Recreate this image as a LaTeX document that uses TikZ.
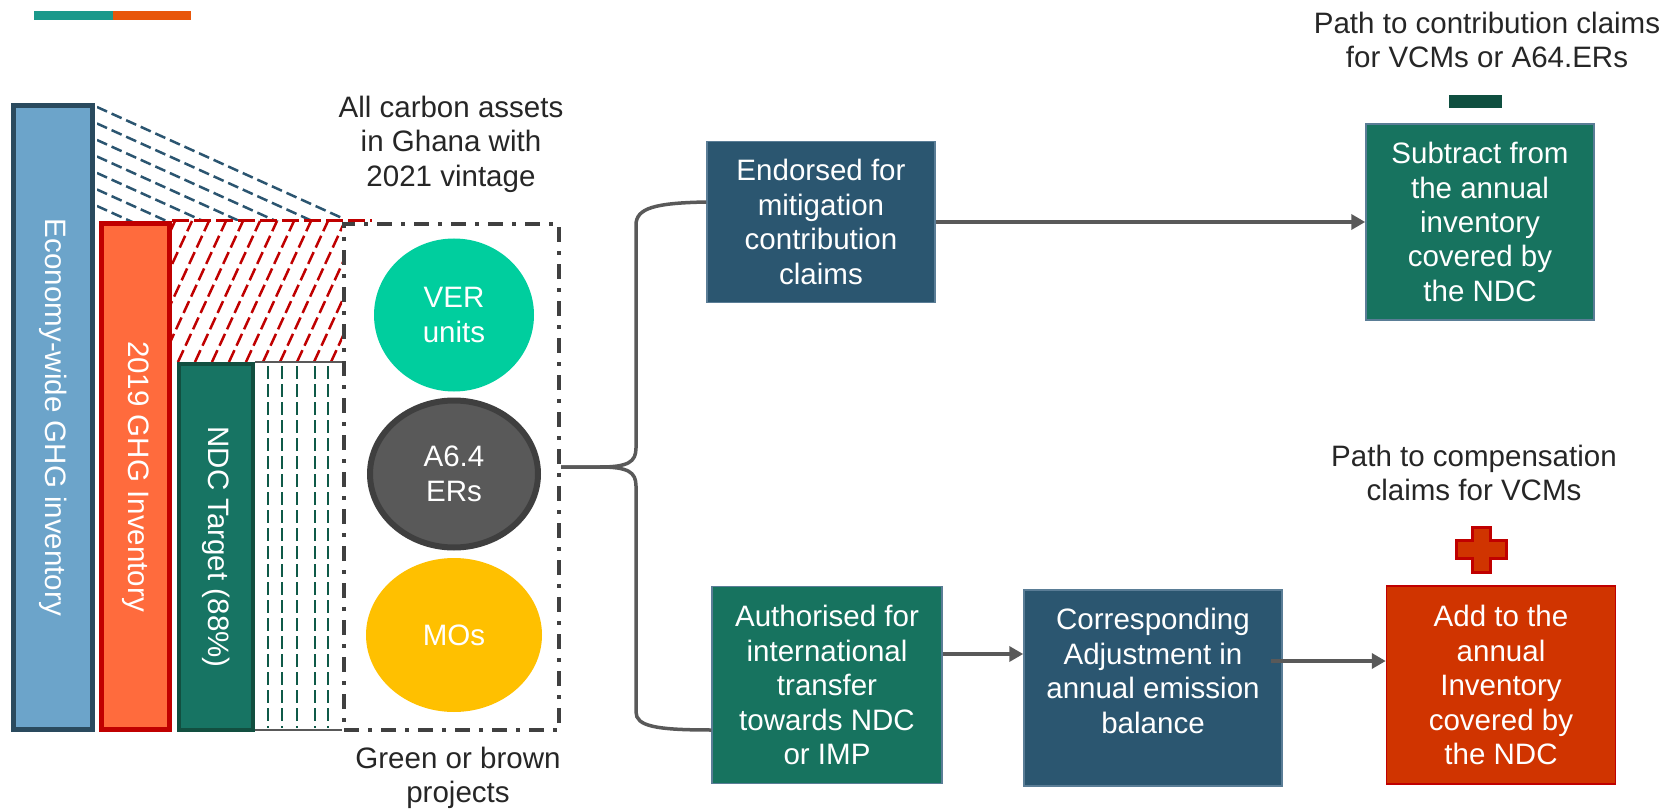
\documentclass[tikz,border=0pt]{standalone}
\usepackage{fontspec}
\setmainfont{Liberation Sans}
\usetikzlibrary{shapes.geometric,arrows.meta,calc}
\newlength{\unitpx}\setlength{\unitpx}{0.2mm}
\definecolor{accteal}{HTML}{1B998B}
\definecolor{accorange}{HTML}{E8560A}
\definecolor{econblue}{HTML}{6CA4CA}
\definecolor{econedge}{HTML}{2A4A5E}
\definecolor{invorange}{HTML}{FF6B3D}
\definecolor{invred}{HTML}{C00000}
\definecolor{ndcteal}{HTML}{177463}
\definecolor{ndcedge}{HTML}{124F40}
\definecolor{cnavy}{HTML}{2B5670}
\definecolor{cteal}{HTML}{17735F}
\definecolor{addred}{HTML}{D03400}
\definecolor{boxedge}{HTML}{5A7D96}
\definecolor{vergreen}{HTML}{00CE9E}
\definecolor{a64gray}{HTML}{595959}
\definecolor{a64edge}{HTML}{3F3F3F}
\definecolor{mogold}{HTML}{FFC000}
\definecolor{boxgray}{HTML}{404040}
\definecolor{linegray}{HTML}{595959}
\definecolor{textgray}{HTML}{262626}
\definecolor{bluedash}{HTML}{2B5570}
\definecolor{ndcdash}{HTML}{0F5A48}
\definecolor{minusgreen}{HTML}{0F4F40}
\begin{document}
\begin{tikzpicture}[x=0.2mm,y=-0.2mm,
  every node/.style={font=\fontsize{16.8}{19.6}\selectfont, text=textgray, align=center},
  bar/.style={rectangle, rotate=-90, text=white, line width=5\unitpx, inner sep=0},
  box/.style={rectangle, text=white, inner sep=0, draw=boxedge, line width=0.3mm},
  unit/.style={ellipse, text=white, inner sep=0},
  conn/.style={draw=linegray, line width=0.7mm},
  arr/.style={conn, -{Triangle[length=2.8mm,width=3mm]}}]
\useasboundingbox (0,0) rectangle (1663,811);

\fill[accteal] (34,11) rectangle (113,20);
\fill[accorange] (113,11) rectangle (191,20);

% hatching between the bars
\begin{scope}
\clip (97,98) -- (352,221) -- (97,221) -- cycle;
\foreach \k in {0,...,7}
  \draw[bluedash, line width=0.5mm, dash pattern=on 2.2mm off 1mm] (97,107+16.5*\k) -- ++(245,111);
\end{scope}
\begin{scope}
\clip (172,221) rectangle (342,362);
\foreach \k in {0,...,14}
  \draw[invred, line width=0.5mm, dash pattern=on 2.6mm off 1mm] (110+17*\k,362) -- ++(65,-141);
\end{scope}
\foreach \x in {268,282,297,315,328}
  \draw[ndcdash, line width=0.45mm, dash pattern=on 2.6mm off 1mm] (\x,366) -- (\x,728);
\draw[linegray, line width=0.35mm] (255,362) -- (342,362) (245,730) -- (342,730);

\node[bar, fill=econblue, draw=econedge, minimum width=624\unitpx, minimum height=79\unitpx] (economy) at (53,417.5) {Economy-wide GHG inventory};
\node[bar, fill=invorange, draw=invred, minimum width=506\unitpx, minimum height=68\unitpx] (inventory) at (135.5,476.5) {2019 GHG Inventory};
\node[bar, fill=ndcteal, draw=ndcedge, line width=4\unitpx, minimum width=366\unitpx, minimum height=74\unitpx] (target) at (216,547) {NDC Target (88\%)};

\node[draw=boxgray, line width=0.8mm, dash pattern=on 3mm off 1.8mm on 0.8mm off 1.8mm, minimum width=215\unitpx, minimum height=506\unitpx, inner sep=0] (pool) at (451.5,477) {};
\draw[invred, line width=0.6mm, dash pattern=on 3.4mm off 1mm] (172,221) -- (372,221);

\node[unit, fill=vergreen, minimum width=160\unitpx, minimum height=153\unitpx] (ver) at (454,315) {VER\\units};
\node[unit, fill=a64gray, draw=a64edge, line width=1.2mm, minimum width=168\unitpx, minimum height=147\unitpx] (a64) at (454,474) {A6.4\\ERs};
\node[unit, fill=mogold, minimum width=176\unitpx, minimum height=154\unitpx] (mos) at (454,635) {MOs};

\node (assets) at (451,144) {All carbon assets\\in Ghana with\\2021 vintage};
\node (projects) at (458,778) {Green or brown\\projects};

\node[box, fill=cnavy, minimum width=228\unitpx, minimum height=161\unitpx] (endorsed) at (821,222) {Endorsed for\\mitigation\\contribution\\claims};
\node[box, fill=cteal, minimum width=228\unitpx, minimum height=196\unitpx] (subtract) at (1480,222) {Subtract from\\the annual\\inventory\\covered by\\the NDC};
\node[box, fill=cteal, minimum width=230\unitpx, minimum height=197\unitpx] (authorised) at (827,685) {Authorised for\\international\\transfer\\towards NDC\\or IMP};
\node[box, fill=cnavy, minimum width=258\unitpx, minimum height=196\unitpx] (adjustment) at (1153,688) {Corresponding\\Adjustment in\\annual emission\\balance\\\mbox{}};
\node[box, fill=addred, draw=invred, minimum width=229\unitpx, minimum height=198\unitpx] (add) at (1501,685) {Add to the\\annual\\Inventory\\covered by\\the NDC};

\node (contribpath) at (1487,40) {Path to contribution claims\\for VCMs or A64.ERs};
\node (comppath) at (1474,473) {Path to compensation\\claims for VCMs};
\fill[minusgreen] (1449,95) rectangle (1502,108);
\filldraw[fill=addred, draw=invred, line width=0.6mm] (1472,527) -- (1490,527) -- (1490,540) -- (1506,540) -- (1506,558) -- (1490,558)
  -- (1490,572) -- (1472,572) -- (1472,558) -- (1456,558) -- (1456,540) -- (1472,540) -- cycle;

% brace and arrows
\coordinate (tip) at (561,467);
\draw[conn] ($(endorsed.west)+(0,-20)$) .. controls (655,203) and (636,208) .. (636,225) -- (636,448)
  .. controls (636,462) and (628,467) .. (600,467) -- (tip);
\draw[conn] (tip) -- (600,467) .. controls (628,467) and (636,472) .. (636,486) -- (636,712)
  .. controls (636,726) and (655,730) .. ($(authorised.west)+(0,45)$);
\draw[arr] (endorsed) -- (subtract);
\draw[arr] ($(authorised.east)+(0,-31)$) coordinate (a1) -- (a1 -| adjustment.west);
\draw[arr] ($(adjustment.east)+(-12,-27)$) coordinate (a2) -- (a2 -| add.west);
\end{tikzpicture}
\end{document}
